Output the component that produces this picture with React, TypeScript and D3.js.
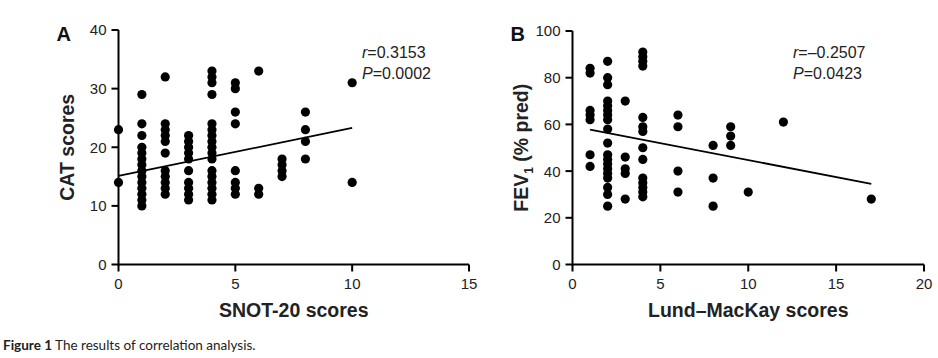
import React from "react";
import * as d3 from "d3";

// Panel A: SNOT-20 vs CAT
const snotScores = [
  0, 0,
  1, 1, 1, 1, 1, 1, 1, 1, 1, 1, 1, 1, 1, 1,
  2, 2, 2, 2, 2, 2, 2, 2, 2, 2, 2,
  3, 3, 3, 3, 3, 3, 3, 3, 3, 3,
  4, 4, 4, 4, 4, 4, 4, 4, 4, 4, 4, 4, 4, 4, 4, 4, 4,
  5, 5, 5, 5, 5, 5, 5, 5,
  6, 6, 6,
  7, 7, 7, 7,
  8, 8, 8, 8,
  10, 10,
];
const catScores = [
  23, 14,
  29, 24, 22, 20, 19, 18, 17, 16, 15, 14, 13, 12, 11, 10,
  32, 24, 23, 22, 21, 19, 16, 15, 14, 13, 12,
  22, 21, 20, 19, 18, 16, 14, 13, 12, 11,
  33, 32, 31, 29, 24, 23, 22, 21, 20, 19, 18, 16, 15, 14, 13, 12, 11,
  31, 30, 26, 24, 16, 14, 13, 12,
  33, 13, 12,
  18, 17, 16, 15,
  26, 23, 21, 18,
  31, 14,
];
const regA = { slope: 0.82, intercept: 15.1 };
const statsA = ["r=0.3153", "P=0.0002"];
const xTicksA = [0, 5, 10, 15];
const yTicksA = [0, 10, 20, 30, 40];

// Panel B: Lund-MacKay vs FEV1
const lundScores = [
  1, 1, 1, 1, 1, 1, 1,
  2, 2, 2, 2, 2, 2, 2, 2, 2, 2, 2, 2, 2, 2, 2, 2, 2, 2, 2,
  3, 3, 3, 3, 3,
  4, 4, 4, 4, 4, 4, 4, 4, 4, 4, 4, 4, 4, 4,
  6, 6, 6, 6,
  8, 8, 8,
  9, 9, 9,
  10,
  12,
  17,
];
const fevValues = [
  84, 82, 66, 64, 62, 47, 42,
  87, 80, 77, 70, 68, 66, 64, 62, 58, 52, 47, 45, 43, 41, 39, 37, 33, 30, 25,
  70, 46, 41, 39, 28,
  91, 89, 87, 85, 63, 59, 57, 50, 45, 37, 35, 33, 31, 29,
  64, 59, 40, 31,
  51, 37, 25,
  59, 55, 51,
  31,
  61,
  28,
];
const regB = { slope: -1.456, intercept: 59.26 };
const statsB = ["r=\u20130.2507", "P=0.0423"];
const xTicksB = [0, 5, 10, 15, 20];
const yTicksB = [0, 20, 40, 60, 80, 100];

const FONT = "Arial, 'Liberation Sans', Helvetica, sans-serif";

type PanelProps = {
  xs: number[];
  ys: number[];
  reg: { slope: number; intercept: number };
  stats: string[];
  xTicks: number[];
  yTicks: number[];
  xScale: d3.ScaleLinear<number, number>;
  yScale: d3.ScaleLinear<number, number>;
  letter: string;
  xTitle: string;
  yTitle: React.ReactNode;
  statsX: number;
};

function Panel(p: PanelProps) {
  const { xScale: x, yScale: y } = p;
  const [x0, x1] = x.range();
  const [y0, y1] = y.range();
  const xmin = d3.min(p.xs) as number;
  const xmax = d3.max(p.xs) as number;
  const line = d3.line<number>()
    .x((d) => x(d))
    .y((d) => y(p.reg.intercept + p.reg.slope * d));
  const tl = 7;
  return (
    <g style={{ fontFamily: FONT }}>
      {/* axes */}
      <line x1={x0} x2={x1} y1={y0} y2={y0} stroke="#000" strokeWidth={2} />
      <line x1={x0} x2={x0} y1={y0 + 1} y2={y1} stroke="#000" strokeWidth={2} />
      {p.xTicks.map((t) => (
        <g key={"xt" + t}>
          <line x1={x(t)} x2={x(t)} y1={y0} y2={y0 + tl} stroke="#000" strokeWidth={2} />
          <text x={x(t)} y={288.5} fontSize={15} textAnchor="middle" fill="#222">{t}</text>
        </g>
      ))}
      {p.yTicks.map((t) => (
        <g key={"yt" + t}>
          <line x1={x0 - tl} x2={x0} y1={y(t)} y2={y(t)} stroke="#000" strokeWidth={2} />
          <text x={x0 - 12} y={y(t)} dy="0.36em" fontSize={15} textAnchor="end" fill="#222">{t}</text>
        </g>
      ))}
      {/* regression line */}
      <path d={line([xmin, xmax]) as string} stroke="#000" strokeWidth={1.8} fill="none" />
      {/* points */}
      {p.xs.map((v, i) => (
        <circle key={i} cx={x(v)} cy={y(p.ys[i])} r={4.6} fill="#000" />
      ))}
      {/* stats */}
      {p.stats.map((s, i) => (
        <text key={"s" + i} x={p.statsX} y={58 + i * 20.5} fontSize={16} fill="#222">
          <tspan fontStyle="italic">{s.slice(0, 1)}</tspan>
          <tspan>{s.slice(1)}</tspan>
        </text>
      ))}
      {/* titles */}
      <text x={(x0 + x1) / 2} y={317} fontSize={19.5} fontWeight="bold" textAnchor="middle" fill="#222">{p.xTitle}</text>
      <text transform={`translate(${x0 - 45},${(y0 + y1) / 2}) rotate(-90)`} fontSize={19.5} fontWeight="bold" textAnchor="middle" fill="#222">{p.yTitle}</text>
      <text x={x0 - 62} y={41} fontSize={20} fontWeight="bold" fill="#111">{p.letter}</text>
    </g>
  );
}

export default function App() {
  const xA = d3.scaleLinear().domain([0, 15]).range([118.5, 469]);
  const yA = d3.scaleLinear().domain([0, 40]).range([264.5, 30]);
  const xB = d3.scaleLinear().domain([0, 20]).range([572.5, 924]);
  const yB = d3.scaleLinear().domain([0, 100]).range([264.5, 31]);
  return (
    <svg width={938} height={358} style={{ position: "absolute", left: 0, top: 0, background: "#fff" }}>
      <rect width={938} height={358} fill="#fff" />
      <Panel xs={snotScores} ys={catScores} reg={regA} stats={statsA} xTicks={xTicksA} yTicks={yTicksA}
        xScale={xA} yScale={yA} letter="A" xTitle="SNOT-20 scores" yTitle="CAT scores" statsX={362} />
      <Panel xs={lundScores} ys={fevValues} reg={regB} stats={statsB} xTicks={xTicksB} yTicks={yTicksB}
        xScale={xB} yScale={yB} letter="B" xTitle={"Lund\u2013MacKay scores"}
        yTitle={<><tspan>FEV</tspan><tspan fontSize={12} dy="5">1</tspan><tspan dy="-5"> (% pred)</tspan></>}
        statsX={793} />
      <text x={3} y={349.5} style={{ fontFamily: "Lato, 'Open Sans', sans-serif" }} fontSize={13.5} fill="#222">
        <tspan fontWeight="bold">Figure 1</tspan>
        <tspan> The results of correlation analysis.</tspan>
      </text>
    </svg>
  );
}
